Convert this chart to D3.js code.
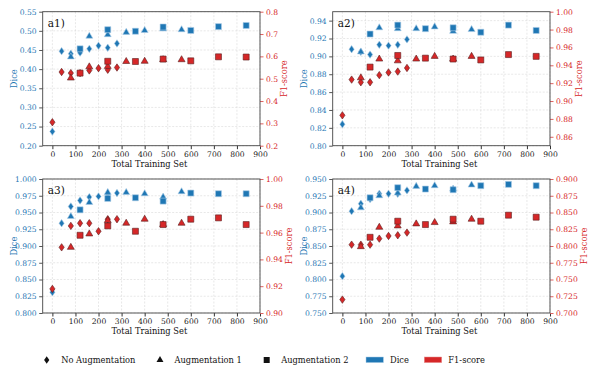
<html>
<script src='https://d3js.org/d3.v7.min.js'></script>
<style>
  body { margin: 0; background: white; }
  text { font-family: 'DejaVu Serif', serif; }
</style>
<body>
<svg width=593 height=381></svg>
<script>
// x positions of each training setup
var xNoAug = [0, 40, 80, 120, 160, 200, 240, 280];
var xAug1 = [80, 160, 240, 320, 400, 480, 560];
var xAug2 = [120, 240, 360, 480, 600, 720, 840];
var xTicks = [0, 100, 200, 300, 400, 500, 600, 700, 800, 900];

// values per panel: [No Augmentation, Augmentation 1, Augmentation 2]
var a1Dice = [[0.237, 0.447, 0.440, 0.443, 0.453, 0.461, 0.456, 0.467],
              [0.432, 0.486, 0.490, 0.496, 0.501, 0.505, 0.503],
              [0.453, 0.503, 0.499, 0.510, 0.501, 0.511, 0.514]];
var a1F1 = [[0.305, 0.530, 0.525, 0.525, 0.537, 0.547, 0.540, 0.550],
            [0.503, 0.553, 0.555, 0.577, 0.578, 0.585, 0.585],
            [0.525, 0.578, 0.577, 0.588, 0.580, 0.598, 0.597]];
var a2Dice = [[0.824, 0.908, 0.905, 0.902, 0.913, 0.912, 0.913, 0.919],
              [0.905, 0.932, 0.931, 0.931, 0.933, 0.928, 0.930],
              [0.925, 0.935, 0.931, 0.932, 0.927, 0.935, 0.929]];
var a2F1 = [[0.884, 0.924, 0.921, 0.921, 0.929, 0.932, 0.933, 0.937],
            [0.926, 0.947, 0.945, 0.947, 0.950, 0.947, 0.950],
            [0.938, 0.951, 0.948, 0.947, 0.946, 0.952, 0.950]];
var a3Dice = [[0.831, 0.934, 0.959, 0.968, 0.973, 0.974, 0.977, 0.979],
              [0.944, 0.965, 0.980, 0.980, 0.978, 0.973, 0.981],
              [0.954, 0.971, 0.972, 0.967, 0.979, 0.978, 0.978]];
var a3F1 = [[0.918, 0.949, 0.965, 0.967, 0.967, 0.961, 0.970, 0.970],
            [0.949, 0.959, 0.969, 0.967, 0.970, 0.966, 0.967],
            [0.958, 0.965, 0.961, 0.966, 0.970, 0.971, 0.966]];
var a4Dice = [[0.805, 0.902, 0.913, 0.920, 0.928, 0.928, 0.928, 0.933],
              [0.907, 0.925, 0.929, 0.939, 0.940, 0.935, 0.941],
              [0.922, 0.937, 0.935, 0.934, 0.940, 0.942, 0.940]];
var a4F1 = [[0.720, 0.802, 0.802, 0.802, 0.811, 0.815, 0.816, 0.820],
            [0.799, 0.828, 0.830, 0.833, 0.835, 0.836, 0.840],
            [0.813, 0.837, 0.832, 0.840, 0.837, 0.846, 0.843]];

// axis ticks per panel
var a1DiceTicks = [0.20, 0.25, 0.30, 0.35, 0.40, 0.45, 0.50, 0.55];
var a1F1Ticks = [0.2, 0.3, 0.4, 0.5, 0.6, 0.7, 0.8];
var a2DiceTicks = [0.80, 0.82, 0.84, 0.86, 0.88, 0.90, 0.92, 0.94];
var a2F1Ticks = [0.86, 0.88, 0.90, 0.92, 0.94, 0.96, 0.98, 1.00];
var a3DiceTicks = [0.800, 0.825, 0.850, 0.875, 0.900, 0.925, 0.950, 0.975, 1.000];
var a3F1Ticks = [0.90, 0.92, 0.94, 0.96, 0.98, 1.00];
var a4DiceTicks = [0.750, 0.775, 0.800, 0.825, 0.850, 0.875, 0.900, 0.925, 0.950];
var a4F1Ticks = [0.700, 0.725, 0.750, 0.775, 0.800, 0.825, 0.850, 0.875, 0.900];

var legendNames = ["No Augmentation", "Augmentation 1", "Augmentation 2"];
var metricNames = ["Dice", "F1-score"];

var blue = "#1f77b4", red = "#d62728";
var W = 217.3, H = 134;

var panels = [
  {name: "a1)", left: 42.7, top: 11.7, dice: a1Dice, f1: a1F1, dDom: [0.20, 0.55], fDom: [0.2, 0.8],
   dTicks: a1DiceTicks, fTicks: a1F1Ticks, dFmt: ".2f", fFmt: ".1f"},
  {name: "a2)", left: 332.7, top: 11.7, dice: a2Dice, f1: a2F1, dDom: [0.80, 0.95], fDom: [0.85, 1.00],
   dTicks: a2DiceTicks, fTicks: a2F1Ticks, dFmt: ".2f", fFmt: ".2f"},
  {name: "a3)", left: 42.7, top: 179, dice: a3Dice, f1: a3F1, dDom: [0.80, 1.00], fDom: [0.90, 1.00],
   dTicks: a3DiceTicks, fTicks: a3F1Ticks, dFmt: ".3f", fFmt: ".2f"},
  {name: "a4)", left: 332.7, top: 179, dice: a4Dice, f1: a4F1, dDom: [0.75, 0.95], fDom: [0.70, 0.90],
   dTicks: a4DiceTicks, fTicks: a4F1Ticks, dFmt: ".3f", fFmt: ".3f"}
];

var xSets = [xNoAug, xAug1, xAug2];
var shapes = [
  d3.symbol().type({draw: function(c) { c.moveTo(0, -3.7); c.lineTo(2.6, 0); c.lineTo(0, 3.7); c.lineTo(-2.6, 0); c.closePath(); }}),
  d3.symbol().type(d3.symbolTriangle).size(21),
  d3.symbol().type(d3.symbolSquare).size(36)
];

var svg = d3.select("svg");

panels.forEach(function(p) {
  var g = svg.append("g").attr("transform", "translate(" + p.left + "," + p.top + ")");
  var x = d3.scaleLinear().domain([-42, 900]).range([0, W]);
  var yD = d3.scaleLinear().domain(p.dDom).range([H, 0]);
  var yF = d3.scaleLinear().domain(p.fDom).range([H, 0]);

  //grid
  g.append("g").selectAll("line").data(xTicks).enter().append("line")
    .attr("x1", d => x(d)).attr("x2", d => x(d)).attr("y1", 0).attr("y2", H)
    .attr("stroke", "#d8d8d8").attr("stroke-width", 0.6).attr("stroke-dasharray", "2,1.5");
  g.append("g").selectAll("line").data(p.dTicks).enter().append("line")
    .attr("x1", 0).attr("x2", W).attr("y1", d => yD(d)).attr("y2", d => yD(d))
    .attr("stroke", "#d8d8d8").attr("stroke-width", 0.6).attr("stroke-dasharray", "2,1.5");

  //axes
  var ax = g.append("g").attr("transform", "translate(0," + H + ")")
    .call(d3.axisBottom(x).tickValues(xTicks).tickSize(3.5).tickPadding(2.5));
  ax.selectAll("text").attr("fill", "#222").style("font-size", "7.6px").style("font-family", "DejaVu Serif");
  ax.selectAll("line").attr("stroke", "#333");

  var al = g.append("g").call(d3.axisLeft(yD).tickValues(p.dTicks).tickFormat(d3.format(p.dFmt)).tickSize(3.5).tickPadding(2.5));
  al.selectAll("text").attr("fill", blue).style("font-size", "7.6px").style("font-family", "DejaVu Serif");
  al.selectAll("line").attr("stroke", "#555");

  var ar = g.append("g").attr("transform", "translate(" + W + ",0)")
    .call(d3.axisRight(yF).tickValues(p.fTicks).tickFormat(d3.format(p.fFmt)).tickSize(3.5).tickPadding(2.5));
  ar.selectAll("text").attr("fill", red).style("font-size", "7.6px").style("font-family", "DejaVu Serif");
  ar.selectAll("line").attr("stroke", "#e06060");
  [ax, al, ar].forEach(a => a.select(".domain").remove());

  //frame
  g.append("rect").attr("width", W).attr("height", H).attr("fill", "none")
    .attr("stroke", "#444").attr("stroke-width", 0.9);

  //points, dice first then f1 on top
  [[p.dice, yD, blue, "#a9cbe6"], [p.f1, yF, red, "#5a2020"]].forEach(function(m) {
    m[0].forEach(function(vals, k) {
      g.append("g").selectAll("path").data(vals).enter().append("path")
        .attr("d", shapes[k])
        .attr("transform", (d, i) => "translate(" + x(xSets[k][i]) + "," + m[1](d) + ")")
        .attr("fill", m[2]).attr("stroke", m[3]).attr("stroke-width", 0.6);
    });
  });

  g.append("text").attr("x", 5).attr("y", 15).style("font-size", "10.5px").attr("fill", "#111").text(p.name);

  //axis titles
  g.append("text").attr("transform", "translate(-26," + (H / 2) + ") rotate(-90)")
    .attr("text-anchor", "middle").style("font-size", "8.3px").attr("fill", blue).text("Dice");
  var rw = ar.node().getBBox().width;
  g.append("text").attr("transform", "translate(" + (W + rw + 9) + "," + (H / 2) + ") rotate(-90)")
    .attr("text-anchor", "middle").style("font-size", "8.3px").attr("fill", red).text("F1-score");
  g.append("text").attr("x", W / 2 - 2).attr("y", H + 21).attr("text-anchor", "middle")
    .style("font-size", "8.3px").attr("fill", "#111").text("Total Training Set");
});

//legend
var lg = svg.append("g").attr("transform", "translate(0,360)");
var markX = [46.7, 160, 266.7];
legendNames.forEach(function(n, k) {
  lg.append("path").attr("d", shapes[k]).attr("transform", "translate(" + markX[k] + ",0)").attr("fill", "#111");
  lg.append("text").attr("x", markX[k] + 14.5).attr("y", 3).style("font-size", "8.3px").attr("fill", "#111").text(n);
});
var patchX = [366, 424.3];
metricNames.forEach(function(n, k) {
  lg.append("rect").attr("x", patchX[k]).attr("y", -3).attr("width", 17.4).attr("height", 5.6)
    .attr("fill", k === 0 ? blue : red).attr("stroke", k === 0 ? "#a9cbe6" : "#e89090").attr("stroke-width", 0.5);
  lg.append("text").attr("x", patchX[k] + 24).attr("y", 3).style("font-size", "8.3px").attr("fill", "#111").text(n);
});
</script>
</body>
</html>
